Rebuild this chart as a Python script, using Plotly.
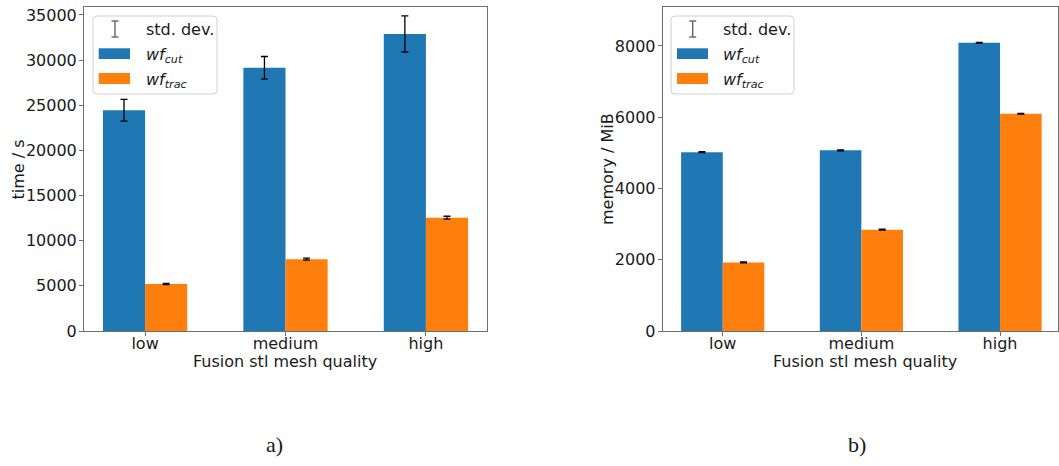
import plotly.graph_objects as go

# ---------------- data ----------------
categories = ["low", "medium", "high"]

time_cut = [24450, 29150, 32900]
time_cut_std = [1200, 1250, 2000]
time_trac = [5200, 7950, 12550]
time_trac_std = [60, 110, 160]

mem_cut = [5020, 5070, 8090]
mem_cut_std = [12, 10, 10]
mem_trac = [1925, 2845, 6100]
mem_trac_std = [12, 12, 10]

BLUE = "#1f77b4"
ORANGE = "#ff7f0e"
W, H = 1059, 466
FONT = "DejaVu Sans"


def px(x):
    return x / W


def py(y):
    return 1 - y / H


fig = go.Figure()


def add_bars(xa, ya, cut, cut_std, trac, trac_std):
    fig.add_trace(go.Bar(
        x=categories, y=cut, width=0.3, offset=-0.3,
        marker=dict(color=BLUE, line=dict(width=0)),
        error_y=dict(type="data", array=cut_std, color="black", thickness=1.3, width=3.5),
        xaxis=xa, yaxis=ya, showlegend=False, name="wf_cut"))
    fig.add_trace(go.Bar(
        x=categories, y=trac, width=0.3, offset=0.0,
        marker=dict(color=ORANGE, line=dict(width=0)),
        error_y=dict(type="data", array=trac_std, color="black", thickness=1.3, width=3.5),
        xaxis=xa, yaxis=ya, showlegend=False, name="wf_trac"))


add_bars("x", "y", time_cut, time_cut_std, time_trac, time_trac_std)
add_bars("x2", "y2", mem_cut, mem_cut_std, mem_trac, mem_trac_std)

axis_common = dict(
    showline=True, linecolor="#6e6e6e", linewidth=1, mirror=True,
    ticks="outside", ticklen=4, tickcolor="#6e6e6e", tickwidth=1,
    showgrid=False, zeroline=False, automargin=False,
    tickfont=dict(family=FONT, size=16, color="#1a1a1a"),
)

fig.update_layout(
    width=W, height=H,
    margin=dict(l=0, r=0, t=0, b=0, autoexpand=False),
    paper_bgcolor="white", plot_bgcolor="white",
    barmode="overlay", showlegend=False,
    font=dict(family=FONT, size=16, color="#1a1a1a"),
    xaxis=dict(domain=[px(84), px(487)], anchor="y", type="category",
               range=[-0.435, 2.435], ticklabelstandoff=-6, **axis_common),
    yaxis=dict(domain=[py(331), py(7.3)], anchor="x", range=[0, 35850],
               tickvals=[0, 5000, 10000, 15000, 20000, 25000, 30000, 35000],
               ticktext=["0", "5000", "10000", "15000", "20000", "25000", "30000", "35000"],
               ticklabelstandoff=-1, **axis_common),
    xaxis2=dict(domain=[px(662.7), px(1058)], anchor="y2", type="category",
                range=[-0.433, 2.418], ticklabelstandoff=-6, **axis_common),
    yaxis2=dict(domain=[py(331), py(7.3)], anchor="x2", range=[0, 9086],
                tickvals=[0, 2000, 4000, 6000, 8000],
                ticktext=["0", "2000", "4000", "6000", "8000"],
                ticklabelstandoff=-1, **axis_common),
)

annotations = []
shapes = []


def text(x, y, s, size=16, xanchor="center", angle=0, family=FONT):
    annotations.append(dict(
        x=px(x), y=py(y), xref="paper", yref="paper", text=s, showarrow=False,
        xanchor=xanchor, yanchor="middle", textangle=angle,
        font=dict(family=family, size=size, color="#1a1a1a")))


# axis titles
text(17.5, 170, "time / s", angle=-90)
text(285, 361, "Fusion stl mesh quality")
text(607, 169, "memory / MiB", angle=-90)
text(865, 361, "Fusion stl mesh quality")

# captions
text(274, 444, "a)", size=22, family="Liberation Serif")
text(857, 444, "b)", size=22, family="Liberation Serif")


def rounded_rect(x0, y0, x1, y1, r=4):
    X0, X1 = px(x0), px(x1)
    Y0, Y1 = py(y0), py(y1)
    rx, ry = r / W, r / H
    return (f"M{X0 + rx},{Y0} L{X1 - rx},{Y0} Q{X1},{Y0} {X1},{Y0 - ry} "
            f"L{X1},{Y1 + ry} Q{X1},{Y1} {X1 - rx},{Y1} L{X0 + rx},{Y1} "
            f"Q{X0},{Y1} {X0},{Y1 + ry} L{X0},{Y0 - ry} Q{X0},{Y0} {X0 + rx},{Y0} Z")


def legend(bx0, bx1, icon_x, patch_x0, patch_x1, text_x):
    shapes.append(dict(type="path", path=rounded_rect(bx0, 16, bx1, 94), xref="paper", yref="paper",
                       line=dict(color="#d0d0d0", width=1), fillcolor="rgba(255,255,255,0.85)"))
    c = "#5a5a5a"
    shapes.append(dict(type="line", x0=px(icon_x), x1=px(icon_x), y0=py(21), y1=py(37),
                       xref="paper", yref="paper", line=dict(color=c, width=1.3)))
    for yy in (21, 37):
        shapes.append(dict(type="line", x0=px(icon_x - 3.5), x1=px(icon_x + 3.5), y0=py(yy), y1=py(yy),
                           xref="paper", yref="paper", line=dict(color=c, width=1.3)))
    shapes.append(dict(type="rect", x0=px(patch_x0), x1=px(patch_x1), y0=py(48.3), y1=py(59),
                       xref="paper", yref="paper", line=dict(width=0), fillcolor=BLUE))
    shapes.append(dict(type="rect", x0=px(patch_x0), x1=px(patch_x1), y0=py(73), y1=py(84),
                       xref="paper", yref="paper", line=dict(width=0), fillcolor=ORANGE))
    text(text_x, 29, "std. dev.", xanchor="left")
    text(text_x, 55, "<i>wf</i><sub><i>cut</i></sub>", xanchor="left")
    text(text_x, 80, "<i>wf</i><sub><i>trac</i></sub>", xanchor="left")


legend(93, 217, 115, 98.7, 130, 143.5)
legend(671, 794, 692.7, 677, 708, 721)

fig.update_layout(annotations=annotations, shapes=shapes)

fig.write_html("out.html")
